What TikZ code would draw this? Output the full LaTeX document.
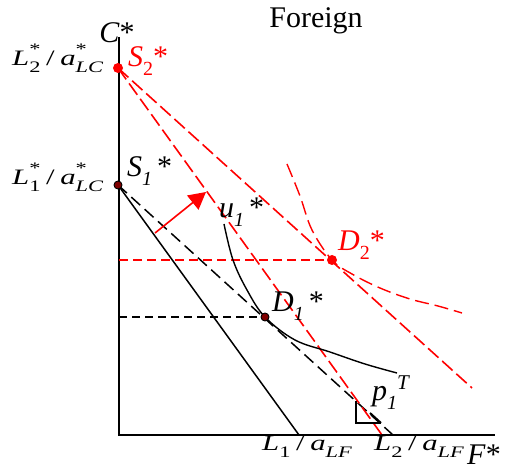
\documentclass[tikz,border=0pt]{standalone}
\usepackage{fontspec}
\setmainfont{Liberation Serif}
\usetikzlibrary{arrows.meta}
\newcommand{\bsub}[1]{\raisebox{-9pt}{\fontsize{20}{20}\selectfont #1}}
\newcommand{\bsup}[1]{\raisebox{11pt}{\fontsize{21}{21}\selectfont #1}}
\newcommand{\msub}[1]{\raisebox{-7pt}{\fontsize{16}{16}\selectfont #1}}
\newcommand{\msup}[1]{\raisebox{11pt}{\fontsize{16}{16}\selectfont #1}}
\newcommand{\msubsup}[2]{\rlap{\msup{#2}}\msub{#1}}
\newcommand{\mlabtext}[1]{\scalebox{1.4}[1]{#1}}
\begin{document}
\begin{tikzpicture}[x=1pt,y=-1pt,
  axis/.style={line width=2pt},
  big/.style={font=\fontsize{30}{33}\selectfont, inner sep=0pt},
  mlab/.style={font=\fontsize{22}{25}\selectfont, inner sep=0pt},
  reddash/.style={red, line width=1.6pt, dash pattern=on 14pt off 5pt},
  redhdash/.style={red, line width=1.6pt, dash pattern=on 9pt off 5pt},
  redcurve/.style={red, line width=1.4pt, dash pattern=on 14pt off 6pt},
  blkdash/.style={black, line width=1.5pt, dash pattern=on 12pt off 6pt},
  blkhdash/.style={black, line width=1.5pt, dash pattern=on 8pt off 5pt},
  blkline/.style={black, line width=1.5pt},
  dotdark/.style={circle, fill=red!50!black, draw=black, line width=0.9pt, inner sep=0pt, minimum size=8pt},
  dotred/.style={circle, fill=red, inner sep=0pt, minimum size=10pt}]
\useasboundingbox (0,0) rectangle (506,470);

% coordinates
\coordinate (o) at (119,435);
\coordinate (ytop) at (119,37);
\coordinate (xend) at (495,435);
\coordinate (s1) at (118,185);
\coordinate (s2) at (118,68);
\coordinate (d1) at (265,317);
\coordinate (d2) at (332,260);
\coordinate (L1F) at (299,435);
\coordinate (L2F) at (393,435);
\coordinate (r1end) at (382,435);
\coordinate (r2end) at (472,388);
\coordinate (h1) at (119,317);
\coordinate (h2) at (119,260);
\coordinate (arA) at (155,233);
\coordinate (arB) at (206,192);

% axes
\draw[axis] (ytop) -- (o) -- (xend);

% production possibility lines
\draw[blkline] (s1) -- (L1F);
\draw[blkdash] (s1) -- (L2F);
\draw[reddash] (s2) -- (r1end);
\draw[reddash] (s2) -- (r2end);

% horizontal dashed
\draw[blkhdash] (h1) -- (d1);
\draw[redhdash] (h2) -- (d2);

% indifference curves
\draw[blkline, line width=1.4pt] plot[smooth, tension=0.6] coordinates {(224,224) (233,260) (247,290) (265,317) (295,340) (330,352) (365,364) (397,373)};
\draw[redcurve] plot[smooth, tension=0.6] coordinates {(287,164) (300,196) (312,230) (332,260) (352,274) (380,288) (410,299) (438,306) (462,313)};

% right angle
\coordinate (ra1) at (356,401);
\coordinate (ra2) at (356,423);
\coordinate (ra3) at (381,423);
\draw[line width=1.6pt] (ra1) -- (ra2) -- (ra3);
\draw[line width=2pt] (370,413) -- (381,423);

% arrow
\draw[red, line width=1.6pt, -{Triangle[length=17pt,width=18pt]}] (arA) -- (arB);

% points
\node[dotred] (S2) at (s2) {};
\node[dotdark] (S1) at (s1) {};
\node[dotred] (D2) at (d2) {};
\node[dotdark] (D1) at (d1) {};

% labels
\node[big, anchor=base] (title) at (316,28) {Foreign};
\node[big, anchor=base] (Cl) at (117,43) {\textit{C}*};
\node[big, anchor=base west] (Fl) at (467,464) {\textit{F}*};
\node[big, anchor=base west, red] (S2l) at (128,67) {\textit{S}\bsub{2}*};
\node[big, anchor=base west] (S1l) at (127,177) {\textit{S}\bsub{\textit{1}}\,*};
\node[big, anchor=base west] (u1l) at (219,218) {\textit{u}\bsub{\textit{1}}\,*};
\node[big, anchor=base west, red] (D2l) at (338,251) {\textit{D}\bsub{2}*};
\node[big, anchor=base west] (D1l) at (272,312) {\textit{D}\bsub{\textit{1}}\,*};
\node[big, anchor=base west] (p1l) at (372,400) {\textit{p}\bsub{\textit{1}}\hspace{0pt}\bsup{\textit{T}}};

\node[mlab, anchor=base west] (L2C) at (12,66) {\mlabtext{\textit{L}\msubsup{2}{*}\hspace{4pt}/\hspace{4pt}\textit{a}\msubsup{\textit{LC}}{*}}};
\node[mlab, anchor=base west] (L1C) at (12,185) {\mlabtext{\textit{L}\msubsup{1}{*}\hspace{4pt}/\hspace{4pt}\textit{a}\msubsup{\textit{LC}}{*}}};
\node[mlab, anchor=base west] (L1Fl) at (262,450) {\mlabtext{\textit{L}\msub{1}\hspace{4pt}/\hspace{4pt}\textit{a}\msub{\textit{LF}}}};
\node[mlab, anchor=base west] (L2Fl) at (374,450) {\mlabtext{\textit{L}\msub{2}\hspace{4pt}/\hspace{4pt}\textit{a}\msub{\textit{LF}}}};
\end{tikzpicture}
\end{document}
